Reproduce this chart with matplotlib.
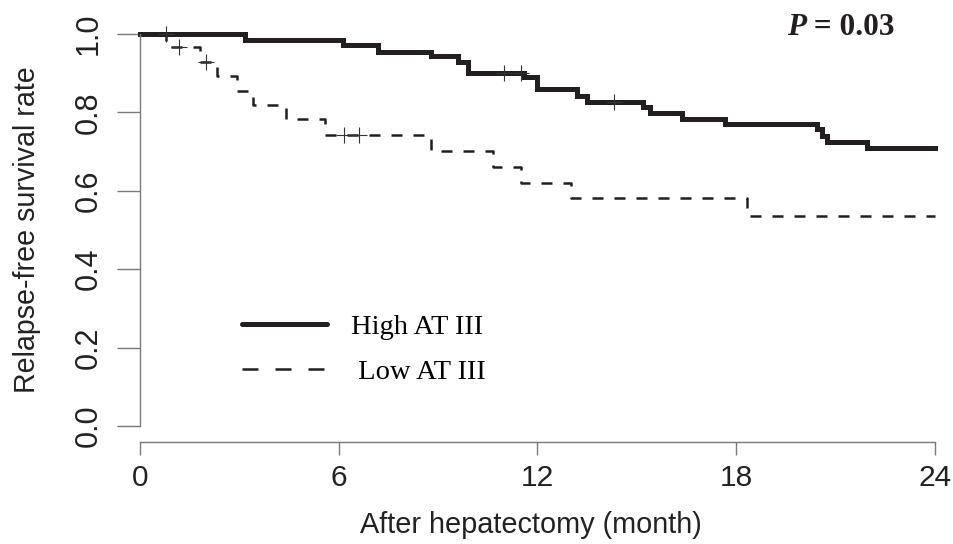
import numpy as np
import matplotlib.pyplot as plt
from matplotlib.lines import Line2D

plt.rcParams['font.family'] = 'Liberation Sans'

# Kaplan-Meier step data (months, survival)
high_t = [0, 3.17, 6.13, 7.18, 8.78, 9.6, 9.9, 11.6, 11.98, 13.2, 13.5, 15.2, 15.4,
          16.35, 17.66, 20.45, 20.6, 20.75, 21.95, 24]
high_s = [1.0, 0.985, 0.972, 0.955, 0.944, 0.928, 0.900, 0.890, 0.859, 0.842, 0.827,
          0.813, 0.798, 0.782, 0.770, 0.757, 0.741, 0.725, 0.710, 0.710]
high_cens_t = [11.0, 11.5, 14.3]
high_cens_s = [0.900, 0.900, 0.827]

low_t = [0, 0.78, 1.81, 2.33, 2.92, 3.42, 4.41, 5.58, 8.8, 10.67, 11.5, 13.0, 18.33, 24]
low_s = [1.0, 0.968, 0.928, 0.892, 0.855, 0.819, 0.782, 0.742, 0.701, 0.661, 0.621,
         0.581, 0.536, 0.536]
low_cens_t = [0.78, 1.18, 2.0, 6.16, 6.6]
low_cens_s = [1.0, 0.968, 0.928, 0.742, 0.742]

x_ticks = [0, 6, 12, 18, 24]
y_ticks = [0.0, 0.2, 0.4, 0.6, 0.8, 1.0]

ink = '#231f20'
axis_col = '#7a7a7a'
txt_col = '#222222'
serif = 'Liberation Serif'

fig = plt.figure(figsize=(9.54, 5.44), dpi=100)
W, H = 954, 544
ax = fig.add_axes([140 / W, (H - 426) / H, (935 - 140) / W, (426 - 34) / H])

ax.step(high_t, high_s, where='post', color=ink, lw=3.6, clip_on=False,
        solid_joinstyle='miter')
ax.step(low_t, low_s, where='post', color=ink, lw=1.8, dashes=(4.4, 4.4),
        clip_on=False)
ax.plot(high_cens_t, high_cens_s, ls='none', marker='+', ms=12, mew=0.8,
        color='#333333', clip_on=False)
ax.plot(low_cens_t, low_cens_s, ls='none', marker='+', ms=12, mew=0.8,
        color='#333333', clip_on=False)

ax.set_xlim(0, 24)
ax.set_ylim(0, 1)

for side in ['top', 'right']:
    ax.spines[side].set_visible(False)
for side in ['left', 'bottom']:
    ax.spines[side].set_color(axis_col)
    ax.spines[side].set_linewidth(1.0)
ax.spines['bottom'].set_position(('outward', 11.5))

ax.set_xticks(x_ticks)
ax.set_xticklabels([str(v) for v in x_ticks])
ax.set_yticks(y_ticks)
ax.set_yticklabels([f'{v:.1f}' for v in y_ticks], rotation=90, va='center')
ax.tick_params(axis='x', length=9.5, width=1.0, color=axis_col, pad=6,
               labelsize=21.5, labelcolor=txt_col)
ax.tick_params(axis='y', length=16.6, width=1.0, color=axis_col, pad=9.5,
               labelsize=22, labelcolor=txt_col)

ax.set_xlabel('After hepatectomy (month)', fontsize=20.8, color=txt_col)
ax.set_ylabel('Relapse-free survival rate', fontsize=20.6, color=txt_col)
ax.xaxis.set_label_coords(0.492, -0.217)
ax.yaxis.set_label_coords(-0.1245, 0.5)

handles = [Line2D([], [], color=ink, lw=3.6, solid_capstyle='round'),
           Line2D([], [], color=ink, lw=1.8, dashes=(6.4, 6.8))]
ax.legend(handles, ['High AT III', ' Low AT III'], loc='center left',
          bbox_to_anchor=(0.128, 0.195), frameon=False, borderpad=0,
          borderaxespad=0, handlelength=3.0, handletextpad=0.85,
          labelspacing=0.7, prop={'family': serif, 'size': 20.5})

t1 = ax.text(19.53, 0.997, 'P', fontsize=22.5, family=serif, style='italic',
             weight='bold', color=ink, va='baseline', ha='left')
ax.annotate(' = 0.03', xy=(1, 0), xycoords=t1, fontsize=22.5, family=serif,
            weight='bold', color=ink, va='bottom', ha='left')

fig.savefig('out.png', dpi=100)
